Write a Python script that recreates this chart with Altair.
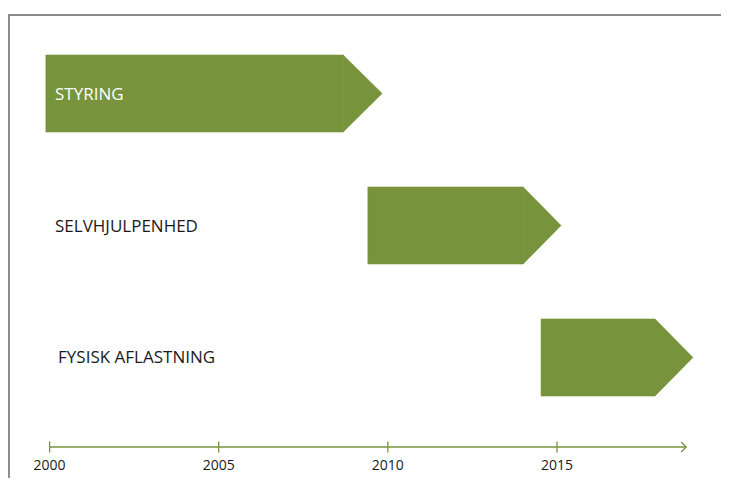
import altair as alt
import pandas as pd

# ---- data ----
tasks = ["STYRING", "SELVHJULPENHED", "FYSISK AFLASTNING"]
lanes = [3, 2, 1]
starts = [1999.89, 2009.41, 2014.53]
body_ends = [2008.68, 2014.00, 2017.90]
tip_ends = [2009.83, 2015.12, 2019.02]
label_x = [2000.16, 2000.16, 2000.25]
tick_years = [2000, 2005, 2010, 2015]
tick_labels = ["2000", "2005", "2010", "2015"]
axis_start = 2000
axis_end = 2018.82

HALF = 0.2917      # half bar height in lane units
AXIS_LANE = 0.322  # lane value of the time axis
GREEN = "#77933C"
FONT = "Open Sans"

W, H = 713, 470
xs = alt.Scale(domain=[1998.77, 2019.85], nice=False, zero=False)
ys = alt.Scale(domain=[0.087, 3.648], nice=False, zero=False)

bars = pd.DataFrame(dict(task=tasks, lane=lanes, start=starts, bend=body_ends, tend=tip_ends))
bars["top"] = bars["lane"] + HALF
bars["bot"] = bars["lane"] - HALF

# arrow tip triangles: two points per task (body end -> tip)
rows = []
for t, ln, b, e in zip(tasks, lanes, body_ends, tip_ends):
    rows.append(dict(task=t, px=b, ptop=ln + HALF, pbot=ln - HALF))
    rows.append(dict(task=t, px=e, ptop=ln, pbot=ln))
tips = pd.DataFrame(rows)

labels = pd.DataFrame(dict(task=tasks, lane=lanes, start=starts, lx=label_x))
ticks = pd.DataFrame(dict(year=tick_years, label=tick_labels, lane=[AXIS_LANE] * len(tick_years)))
axis_df = pd.DataFrame(dict(ax=[axis_start], ax2=[axis_end], ay=[AXIS_LANE]))
head_df = pd.DataFrame(dict(hx=[axis_end], hy=[AXIS_LANE]))

body = alt.Chart(bars).mark_rect(
    fill=GREEN, stroke=GREEN, strokeWidth=0.6, opacity=1
).encode(
    x=alt.X("start:Q", scale=xs, axis=None),
    x2="bend",
    y=alt.Y("top:Q", scale=ys, axis=None),
    y2="bot",
)

tip_layers = [
    alt.Chart(tips).transform_filter(alt.datum.task == t).mark_area(
        fill=GREEN, stroke=GREEN, strokeWidth=0.6, opacity=1
    ).encode(
        x=alt.X("px:Q", scale=xs, axis=None),
        y=alt.Y("ptop:Q", scale=ys, axis=None, stack=None),
        y2="pbot",
    )
    for t in tasks
]

text = alt.Chart(labels).mark_text(
    align="left", baseline="middle", font=FONT, fontSize=17, dy=1
).encode(
    x=alt.X("lx:Q", scale=xs, axis=None),
    y=alt.Y("lane:Q", scale=ys, axis=None),
    text="task:N",
    color=alt.condition("datum.start < datum.lx", alt.value("#ffffff"), alt.value("#1a1a1a")),
)

axis_line = alt.Chart(axis_df).mark_rule(color=GREEN, strokeWidth=1.3).encode(
    x=alt.X("ax:Q", scale=xs, axis=None),
    x2="ax2",
    y=alt.Y("ay:Q", scale=ys, axis=None),
)

tick_marks = alt.Chart(ticks).mark_tick(
    orient="vertical", color=GREEN, size=11, thickness=1.3, opacity=1
).encode(
    x=alt.X("year:Q", scale=xs, axis=None),
    y=alt.Y("lane:Q", scale=ys, axis=None),
)

tick_text = alt.Chart(ticks).mark_text(
    baseline="middle", font=FONT, fontSize=14, dy=19, color="#1a1a1a"
).encode(
    x=alt.X("year:Q", scale=xs, axis=None),
    y=alt.Y("lane:Q", scale=ys, axis=None),
    text="label:N",
)

head = alt.Chart(head_df).mark_point(
    shape="M-1,-1L0,0L-1,1", size=100, filled=False, color=GREEN, strokeWidth=1.3, opacity=1
).encode(
    x=alt.X("hx:Q", scale=xs, axis=None),
    y=alt.Y("hy:Q", scale=ys, axis=None),
)

frame_top = alt.Chart(head_df).mark_rule(color="#8c8c8c", strokeWidth=2).encode(
    x=alt.value(0), x2=alt.value(W), y=alt.value(7)
)
frame_left = alt.Chart(head_df).mark_rule(color="#8c8c8c", strokeWidth=2).encode(
    x=alt.value(1), y=alt.value(6), y2=alt.value(H)
)

chart = alt.layer(
    frame_top, frame_left, body, *tip_layers, text, axis_line, tick_marks, head, tick_text
).properties(
    width=W, height=H, autosize=alt.AutoSizeParams(type="none"), padding=0
).configure_view(strokeOpacity=0)

chart.save("out.html", embed_options={"renderer": "svg", "actions": False})
